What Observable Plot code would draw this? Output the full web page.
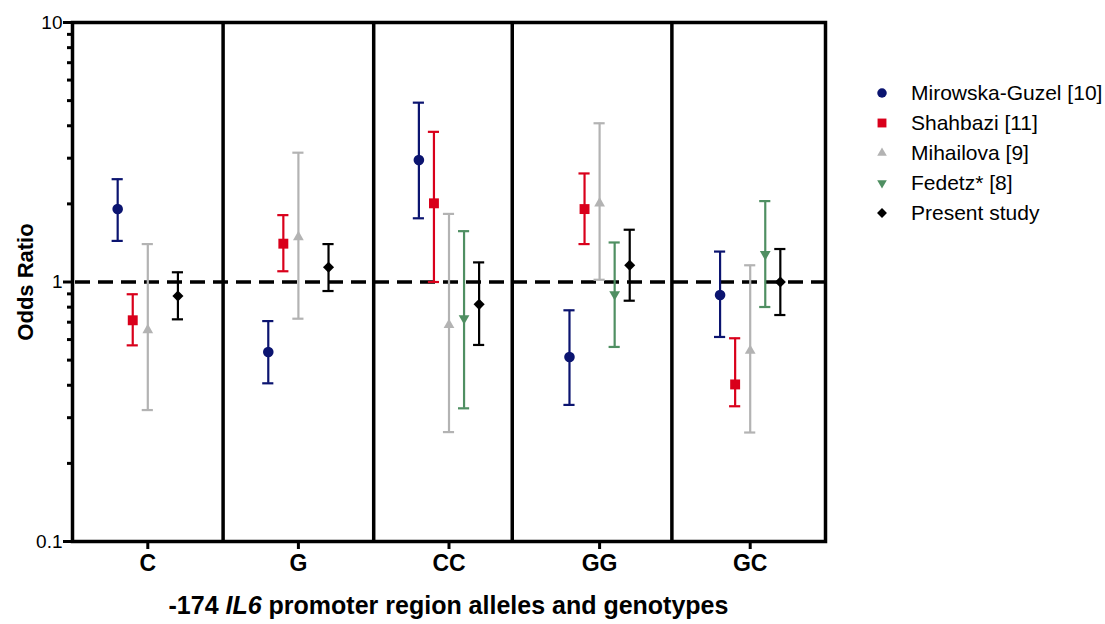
<!DOCTYPE html>
<html><head><meta charset="utf-8">
<script src="https://cdn.jsdelivr.net/npm/d3@7"></script>
<script src="https://cdn.jsdelivr.net/npm/@observablehq/plot@0.6"></script>
<style>
body{margin:0;background:#fff;font-family:"Liberation Sans",Arial,sans-serif;}
#wrap{position:relative;width:1105px;height:624px;overflow:hidden;}
#xtitle{position:absolute;left:72px;width:753px;top:591px;text-align:center;font-size:25px;font-weight:bold;line-height:28px;}
.lg{position:absolute;left:870px;height:30px;display:flex;align-items:center;font-size:21px;color:#000;white-space:nowrap;}
.lg svg{width:24px;height:24px;margin-right:17px;}
</style></head><body>
<div id="wrap"><div id="chart"></div><div id="xtitle">-174 <i>IL6</i> promoter region alleles and genotypes</div><div id="legend"></div></div>
<script>
const categories = ["C","G","CC","GG","GC"];
const studies = ["Mirowska-Guzel [10]","Shahbazi [11]","Mihailova [9]","Fedetz* [8]","Present study"];
const colors = ["#0b1470","#d9001b","#b3b3b3","#4f8f62","#000000"];
const symbols = ["circle","square","triangle","triangle","diamond2"];
const yTicks = [0.1, 1, 10];
const yMinor = [0.2,0.3,0.4,0.5,0.6,0.7,0.8,0.9,2,3,4,5,6,7,8,9];
const boundaries = [0.5, 1.5, 2.42, 3.48];

const mirowska_or = [1.91, 0.537, 2.95, 0.514, 0.891];
const mirowska_lo = [1.44, 0.407, 1.76, 0.336, 0.614];
const mirowska_hi = [2.49, 0.707, 4.91, 0.778, 1.31];
const shahbazi_or = [0.712, 1.405, 2.01, 1.91, 0.403];
const shahbazi_lo = [0.570, 1.10, 1.00, 1.40, 0.332];
const shahbazi_hi = [0.897, 1.81, 3.79, 2.62, 0.607];
const mihailova_or = [0.653, 1.49, 0.683, 2.01, 0.544];
const mihailova_lo = [0.321, 0.722, 0.264, 1.02, 0.263];
const mihailova_hi = [1.40, 3.15, 1.83, 4.09, 1.16];
const fedetz_or = [null, null, 0.725, 0.897, 1.28];
const fedetz_lo = [null, null, 0.326, 0.562, 0.801];
const fedetz_hi = [null, null, 1.57, 1.42, 2.05];
const present_or = [0.883, 1.14, 0.82, 1.16, 1.0];
const present_lo = [0.718, 0.923, 0.572, 0.847, 0.746];
const present_hi = [1.09, 1.40, 1.19, 1.59, 1.34];

const series = [
  [mirowska_or, mirowska_lo, mirowska_hi],
  [shahbazi_or, shahbazi_lo, shahbazi_hi],
  [mihailova_or, mihailova_lo, mihailova_hi],
  [fedetz_or, fedetz_lo, fedetz_hi],
  [present_or, present_lo, present_hi]
];
const rows = [];
series.forEach(([or, lo, hi], s) => {
  categories.forEach((c, i) => {
    if (or[i] == null) return;
    rows.push({s, study: studies[s], cat: c, x: i + (s - 2) * 0.1, or: or[i], lo: lo[i], hi: hi[i]});
  });
});
const cap = 0.037;
const radius = [5.3, 5.6, 4.0, 4.0, 5.0];

const dotMarks = studies.map((st, k) => Plot.dot(rows.filter(d => d.s === k), {
  x: "x", y: "or", fill: "study", symbol: "study", r: radius[k], rotate: k === 3 ? 180 : 0
}));

const chart = Plot.plot({
  width: 1105, height: 585,
  marginTop: 22, marginBottom: 44, marginLeft: 72, marginRight: 280,
  style: {fontFamily: "'Liberation Sans', Arial, sans-serif", background: "#fff"},
  x: {type: "linear", domain: [-0.5, 4.5], axis: null},
  y: {type: "log", domain: [0.1, 10], axis: null},
  color: {domain: studies, range: colors},
  symbol: {domain: studies, range: symbols},
  marks: [
    Plot.ruleY([1], {stroke: "black", strokeWidth: 3.5, strokeDasharray: "15,8", strokeDashoffset: -3}),
    Plot.ruleX(boundaries, {stroke: "black", strokeWidth: 3.5}),
    Plot.ruleX(rows, {x: "x", y1: "lo", y2: "hi", stroke: "study", strokeWidth: 2.2}),
    Plot.ruleY(rows, {y: "lo", x1: d => d.x - cap, x2: d => d.x + cap, stroke: "study", strokeWidth: 2.2}),
    Plot.ruleY(rows, {y: "hi", x1: d => d.x - cap, x2: d => d.x + cap, stroke: "study", strokeWidth: 2.2}),
    ...dotMarks,
    Plot.frame({stroke: "black", strokeWidth: 3.5}),
    Plot.axisX({ticks: [0,1,2,3,4], tickFormat: i => categories[i], tickSize: 8, tickPadding: 5, strokeWidth: 3, fontSize: 23, fontWeight: "bold", label: null}),
    Plot.axisY({ticks: yTicks, tickFormat: d => String(d), tickSize: 9, strokeWidth: 3, fontSize: 19, tickPadding: 1, label: null}),
    Plot.axisY({ticks: yMinor, tickFormat: () => "", tickSize: 5, strokeWidth: 3, label: null}),
    Plot.text(["Odds Ratio"], {frameAnchor: "left", textAnchor: "middle", rotate: -90, dx: -47, fontSize: 22, fontWeight: "bold", fill: "black"})
  ]
});
document.getElementById("chart").appendChild(chart);

// legend
const lg = document.getElementById("legend");
studies.forEach((st, k) => {
  const div = document.createElement("div");
  div.className = "lg";
  div.style.top = (78 + k * 30) + "px";
  const sym = d3.symbol(d3["symbol" + {circle:"Circle",square:"Square",triangle:"Triangle",diamond2:"Diamond2"}[symbols[k]]], Math.PI * radius[k] * radius[k] * 0.8)();
  div.innerHTML = `<svg viewBox="-12 -12 24 24"><path d="${sym}" fill="${colors[k]}" transform="rotate(${k===3?180:0})"></path></svg><span>${st}</span>`;
  lg.appendChild(div);
});
</script>
</body></html>
